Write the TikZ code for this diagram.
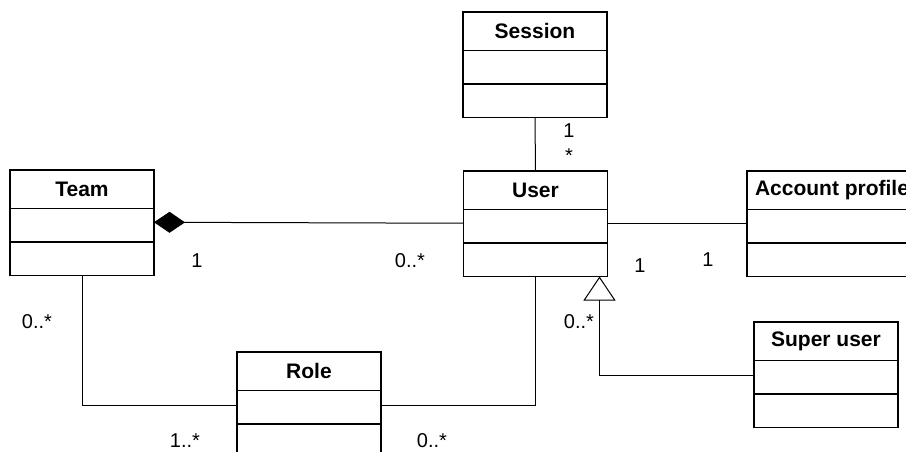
\documentclass[tikz,border=0pt]{standalone}
\usepackage{fontspec}
\setmainfont{Liberation Sans}
\usetikzlibrary{positioning,arrows.meta}

\begin{document}
\begin{tikzpicture}[
      x = 1pt, y = -1pt,
      head/.style={
        draw, line width = 1.5pt,
        outer sep = 0pt, inner sep = 0pt,
        minimum width = #1, minimum height = 38.5pt,
        font = \fontsize{21}{25}\selectfont\bfseries,
      },
      head/.default = 144pt,
      attr/.style={
        draw, line width = 1.5pt,
        outer sep = 0pt, inner sep = 0pt,
        minimum width = #1, minimum height = 33.5pt,
      },
      attr/.default = 144pt,
      link/.style={draw, line width = 1pt},
      mult/.style={anchor = base, inner sep = 0pt,
        font = \fontsize{20}{24}\selectfont},
    ]
    \useasboundingbox (0,0) rectangle (906,452);

    % classes: title, attributes, operations
    \node[head] (session) at (535,31.25) {Session};
    \node[attr, below = 0pt of session] (session-a) {};
    \node[attr, below = 0pt of session-a] (session-b) {};

    \node[head] (user) at (535.5,190.25) {User};
    \node[attr, below = 0pt of user] (user-a) {};
    \node[attr, below = 0pt of user-a] (user-b) {};

    \node[head] (team) at (82,189.25) {Team};
    \node[attr, below = 0pt of team] (team-a) {};
    \node[attr, below = 0pt of team-a] (team-b) {};

    \node[head = 170pt] (account) at (832,190.25) {Account profile};
    \node[attr = 170pt, below = 0pt of account] (account-a) {};
    \node[attr = 170pt, below = 0pt of account-a] (account-b) {};

    \node[head] (super) at (826,341.25) {Super user};
    \node[attr, below = 0pt of super] (super-a) {};
    \node[attr, below = 0pt of super-a] (super-b) {};

    \node[head] (role) at (309,371.25) {Role};
    \node[attr, below = 0pt of role] (role-a) {};
    \node[attr, below = 0pt of role-a] (role-b) {};

    % associations
    \draw[link] (session-b.south) -- (user.north);
    \draw[link, -{Diamond[length=31pt,width=21pt]}]
      ([yshift=3pt]user-a.west) -- ([yshift=3pt]team-a.east);
    \draw[link] ([yshift=3pt]user-a.east) -- ([yshift=3pt]account-a.west);
    \draw[link] (team-b.south) |- ([yshift=2pt]role-a.west);
    \draw[link] ([yshift=2pt]role-a.east) -| (user-b.south);

    % generalization
    \coordinate (gen) at ([xshift=-8pt]user-b.south east);
    \draw[link, -{Triangle[open,length=24pt,width=32pt]}]
      ([yshift=2pt]super-a.west) -| (gen);

    % multiplicities
    \node[mult] (m-session) at (569,138) {1};
    \node[mult] (m-user-top) at (569,162) {*};
    \node[mult] (m-team) at (197,267) {1};
    \node[mult] (m-user-left) at (410,267) {0..*};
    \node[mult] (m-user-right) at (640,272) {1};
    \node[mult] (m-account) at (708,266) {1};
    \node[mult] (m-team-role) at (37,328) {0..*};
    \node[mult] (m-super) at (579,328) {0..*};
    \node[mult] (m-role-left) at (185,447) {1..*};
    \node[mult] (m-role-right) at (432,447) {0..*};
  \end{tikzpicture}
\end{document}
